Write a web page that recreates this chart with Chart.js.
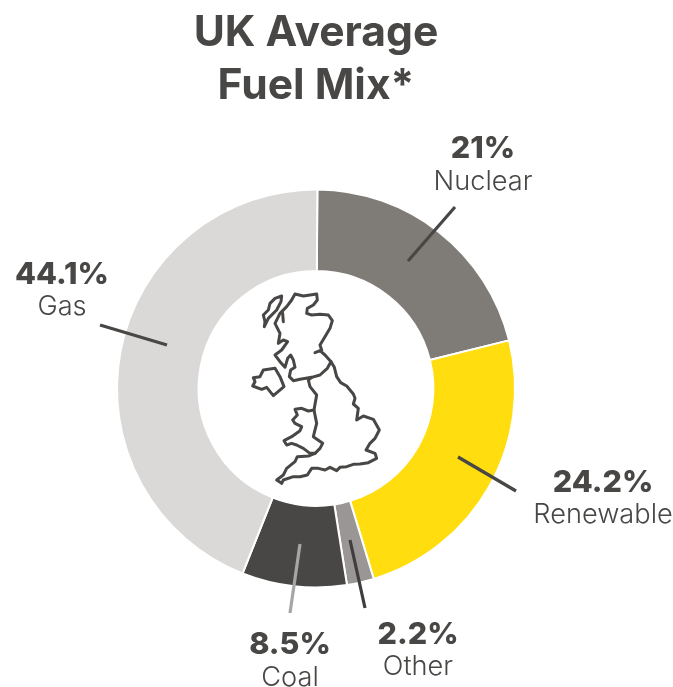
<!DOCTYPE html>
<html><head><meta charset="utf-8">
<style>html,body{margin:0;padding:0;background:#fff}#w{width:673px;height:687px;position:relative}</style>
<script src="https://cdn.jsdelivr.net/npm/chart.js@4"></script>
</head><body><div id="w"><canvas id="c" width="673" height="687"></canvas></div>
<script>
const categories = ['Nuclear','Renewable','Other','Coal','Gas'];
const shares = [21,24.2,2.2,8.5,44.1];
const colours = ['#7F7B76','#FFDD0F','#9B9696','#484745','#DAD9D7'];
const titleLines = ['UK Average','Fuel Mix*'];

const INK = '#484745';
const labelSpots = {Nuclear:[483,158,190],Renewable:[603,492,523],Other:[418,644,675],Coal:[290,654,686],Gas:[62,284,315]};
const leaders = {Nuclear:[408,261,455,207,INK],Renewable:[458,457,516,491,INK],Other:[350,540,365,608,'#3F3E3C'],Coal:[300,544,290,613,'#A8A6A4'],Gas:[167,345,100,325,INK]};
const mapOuter = [[225,42],[250,48],[270,45],[290,42],[292,60],[280,75],[262,85],[260,100],[275,105],[300,103],[325,105],[337,122],[330,145],[318,165],[300,195],[305,210],[285,218],[300,212],[315,225],[333,245],[343,262],[350,290],[362,308],[380,318],[400,342],[405,355],[400,372],[415,385],[410,420],[430,408],[460,418],[478,450],[465,475],[450,490],[438,510],[465,520],[470,535],[445,548],[420,552],[400,553],[380,560],[360,562],[350,572],[330,562],[315,570],[295,565],[275,565],[262,585],[240,590],[220,590],[190,600],[185,610],[170,600],[190,585],[200,565],[225,545],[232,530],[265,528],[285,520],[270,520],[250,505],[230,495],[215,490],[200,495],[192,482],[215,470],[240,452],[245,440],[225,430],[218,420],[232,405],[225,388],[245,385],[265,393],[282,390],[290,345],[270,320],[265,300],[275,292],[240,298],[220,302],[208,290],[212,270],[225,262],[220,240],[212,225],[203,235],[195,262],[180,245],[165,225],[185,210],[203,185],[190,180],[175,190],[180,160],[165,130],[180,100],[200,80],[215,60],[225,42]];
const mapInner = [
 [[282,390],[290,430],[280,470],[308,490],[300,505],[285,520]],
 [[275,292],[300,285],[322,265],[333,245]],
 [[185,48],[165,55],[150,70],[145,90],[130,105],[135,125],[133,140],[145,115],[170,90],[183,65],[185,48]],
 [[188,100],[190,125]],
 [[165,265],[130,270],[120,290],[100,293],[105,305],[98,318],[125,328],[140,322],[160,347],[192,320],[180,290],[165,265]]
];

const extras = {
  id:'extras',
  afterDraw(chart){
    const ctx = chart.ctx; ctx.save();
    ctx.lineCap='butt';
    categories.forEach(k=>{
      const l=leaders[k]; ctx.strokeStyle=l[4]; ctx.lineWidth=3.2;
      ctx.beginPath(); ctx.moveTo(l[0],l[1]); ctx.lineTo(l[2],l[3]); ctx.stroke();
    });
    ctx.textAlign='center'; ctx.textBaseline='alphabetic'; ctx.fillStyle=INK;
    categories.forEach((k,i)=>{
      const s=labelSpots[k];
      ctx.font='800 30.5px Inter';
      ctx.fillText(shares[i]+'%',s[0],s[1]);
      ctx.font='300 27.2px Inter';
      ctx.fillText(k,s[0],s[2]);
    });
    ctx.translate(220,280); ctx.scale(1/3,1/3);
    ctx.strokeStyle=INK; ctx.lineWidth=9; ctx.lineJoin='round'; ctx.lineCap='round';
    [mapOuter,...mapInner].forEach(p=>{
      ctx.beginPath(); p.forEach((q,i)=>i?ctx.lineTo(q[0],q[1]):ctx.moveTo(q[0],q[1])); ctx.stroke();
    });
    ctx.restore();
  }
};
new Chart(document.getElementById('c'),{
  type:'doughnut',
  data:{labels:categories,datasets:[{data:shares,backgroundColor:colours,borderColor:'#fff',borderWidth:2}]},
  options:{
    responsive:false,animation:false,cutout:'59%',rotation:0.4,
    layout:{padding:{left:116,right:157,top:0,bottom:98}},
    plugins:{
      legend:{display:false},tooltip:{enabled:false},
      title:{display:true,text:titleLines,color:INK,font:{family:'Inter',weight:'700',size:42.6,lineHeight:1.244},padding:{top:7,bottom:75}}
    }
  },
  plugins:[extras]
});
</script></body></html>
